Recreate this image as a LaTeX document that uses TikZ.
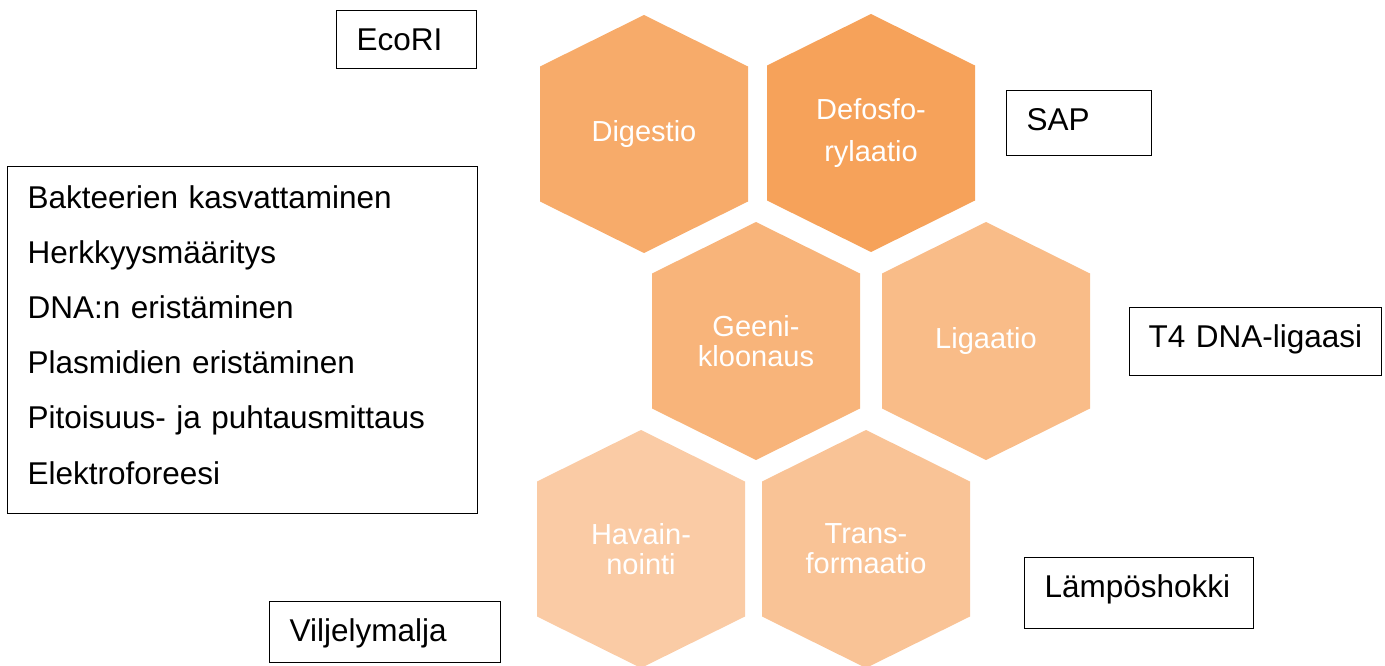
\documentclass[tikz,border=0pt]{standalone}
\usepackage{fontspec}
\setmainfont{Liberation Sans}
\definecolor{hexDig}{HTML}{F7AB6A}
\definecolor{hexDef}{HTML}{F6A25A}
\definecolor{hexGen}{HTML}{F8B47A}
\definecolor{hexLig}{HTML}{F9BC88}
\definecolor{hexTra}{HTML}{F9C396}
\definecolor{hexHav}{HTML}{FACBA5}
\tikzstyle{hextext} = [text=white, align=center, font=\fontsize{29}{30}\selectfont]
\tikzstyle{labelbox} = [draw=black, line width=1.2pt, anchor=north west, inner xsep=20pt, inner ysep=17pt, text height=22.6pt, align=left, font=\fontsize{31.5}{38}\selectfont]

\begin{document}
\begin{tikzpicture}[x=1pt,y=-1pt]
		\useasboundingbox (0,0) rectangle (1385,666);

		% define constants
		\def \hexw {104}
		\def \hexs {67.5}
		\def \hexh {119}

		% Draw the hexagons
		\foreach \n/\cx/\cy/\col/\txt in {dig/644/134/hexDig/Digestio,
			def/871/133/hexDef/{Defosfo-\\[12pt]rylaatio},
			gen/756/341/hexGen/{Geeni-\\kloonaus},
			lig/986/341/hexLig/Ligaatio,
			hav/641/549/hexHav/{Havain-\\nointi},
			tra/866/549/hexTra/{Trans-\\formaatio}}{
			\fill[\col] (\cx,\cy-\hexh) -- (\cx+\hexw,\cy-\hexs) -- (\cx+\hexw,\cy+\hexs)
				-- (\cx,\cy+\hexh) -- (\cx-\hexw,\cy+\hexs) -- (\cx-\hexw,\cy-\hexs) -- cycle;
			\node[hextext] (\n) at (\cx,\cy) {\txt};
		}

		% the labels
		\node[labelbox, text width=100pt, text depth=1.4pt] (ecori) at (336,10) {EcoRI};
		\node[labelbox, text width=105pt, text depth=8.4pt] (sap) at (1006,90) {SAP};
		\node[labelbox, text width=214pt, inner xsep=19pt, text depth=11.4pt] (t4) at (1129,307) {T4 DNA-ligaasi};
		\node[labelbox, text width=189pt, text depth=14.4pt] (heat) at (1024,557) {Lämpöshokki};
		\node[labelbox, text width=191pt, text depth=4.4pt] (plate) at (269,601) {Viljelymalja};

		\node[labelbox, text width=430pt, inner ysep=19pt, text height=22.6pt, text depth=286.4pt,
			font=\fontsize{31.5}{55.2}\selectfont] (methods) at (7,166)
			{Bakteerien kasvattaminen\\Herkkyysmääritys\\DNA:n eristäminen\\Plasmidien eristäminen\\Pitoisuus- ja puhtausmittaus\\Elektroforeesi};
\end{tikzpicture}
\end{document}
